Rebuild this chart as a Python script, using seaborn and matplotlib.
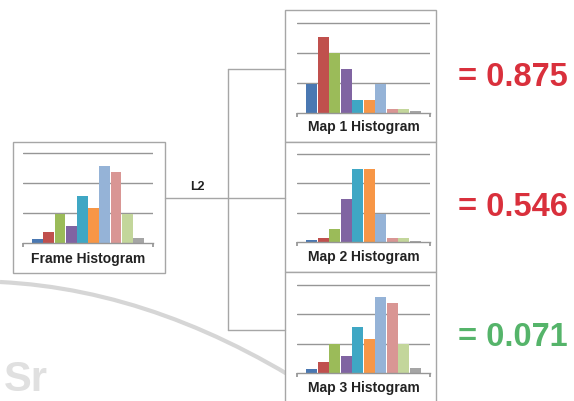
import matplotlib
matplotlib.use("Agg")
import matplotlib.pyplot as plt
import seaborn as sns
from matplotlib.patches import Rectangle, PathPatch
from matplotlib.path import Path

# Histogram bins and values (grid units)
bins = [str(i) for i in range(1, 11)]
frame_hist = [0.15, 0.37, 0.97, 0.56, 1.57, 1.16, 2.58, 2.38, 0.97, 0.17]
map1_hist = [0.98, 2.52, 2.00, 1.47, 0.44, 0.44, 0.98, 0.13, 0.13, 0.06]
map2_hist = [0.06, 0.14, 0.43, 1.47, 2.47, 2.47, 0.95, 0.14, 0.14, 0.04]
map3_hist = [0.15, 0.37, 0.97, 0.56, 1.55, 1.14, 2.58, 2.38, 0.97, 0.17]

titles = ["Frame Histogram", "Map 1 Histogram", "Map 2 Histogram", "Map 3 Histogram"]
scores = ["= 0.875", "= 0.546", "= 0.071"]
score_colors = ["#d9303c", "#d9303c", "#55b46a"]
bar_colors = ["#4a78b2", "#c0504d", "#9bbb59", "#8064a2", "#3fa7c4",
              "#f79646", "#95b3d7", "#d99694", "#c3d69b", "#a5a5a5"]

W, H = 574, 401
sns.set_theme(style="white")
plt.rcParams["font.family"] = ["Liberation Sans", "DejaVu Sans"]

fig = plt.figure(figsize=(W / 100, H / 100), dpi=100)
fig.patch.set_facecolor("white")

# overlay in pixel coordinates for boxes, connectors and labels
over = fig.add_axes([0, 0, 1, 1], zorder=0)
over.set_xlim(0, W)
over.set_ylim(H, 0)
over.axis("off")

# faint watermark arc and letters
verts = [(0, 282), (165, 290), (330, 401)]
arc = PathPatch(Path(verts, [Path.MOVETO, Path.CURVE3, Path.CURVE3]),
                fill=False, edgecolor="#d6d6d6", lw=3, zorder=0)
over.add_patch(arc)
over.text(4, 391, "Sr", fontsize=30, fontweight="bold", color="#e0e0e0",
          va="baseline", ha="left", zorder=0)

box_color = "#a6a6a6"
boxes = [(13, 142, 165, 273), (285, 10, 436, 142),
         (285, 142, 436, 272), (285, 272, 436, 405)]
for x0, y0, x1, y1 in boxes:
    over.add_patch(Rectangle((x0, y0), x1 - x0, y1 - y0, fill=True,
                             facecolor="white", edgecolor=box_color, lw=1, zorder=1))

# connector lines
line_kw = dict(color=box_color, lw=1, zorder=1)
over.plot([165, 285], [198, 198], **line_kw)
over.plot([228, 228], [69, 330], **line_kw)
over.plot([228, 285], [69, 69], **line_kw)
over.plot([228, 285], [330, 330], **line_kw)
over.text(197, 187, "L2", fontsize=9, fontweight="bold", color="#222222",
          ha="center", va="center")

# score texts
for y, s, c in zip([77, 207, 337], scores, score_colors):
    over.text(458, y, s, fontsize=23.5, fontweight="bold", color=c,
              ha="left", va="center")

# histogram panels: (left px, right px, baseline px, unit px, values, label y)
panels = [
    (23, 153, 243, 30.0, frame_hist, 259),
    (297, 430, 113, 30.0, map1_hist, 127),
    (297, 430, 242, 29.5, map2_hist, 257),
    (297, 430, 373, 29.5, map3_hist, 388),
]
ytop = 3.2
for (l, r, base, unit, vals, ly), title in zip(panels, titles):
    top = base - ytop * unit
    ax = fig.add_axes([l / W, 1 - base / H, (r - l) / W, (base - top) / H], zorder=2)
    ax.patch.set_alpha(0)
    for g in [1, 2, 3]:
        ax.axhline(g, color="#969696", lw=1, zorder=0)
    sns.barplot(x=bins, y=vals, hue=bins, palette=bar_colors, legend=False,
                width=0.97, saturation=1, linewidth=0, ax=ax, zorder=2)
    xmin, xmax = -1.3, 10.3
    ax.set_xlim(xmin, xmax)
    ax.set_ylim(0, ytop)
    for side in ["top", "left", "right"]:
        ax.spines[side].set_visible(False)
    ax.spines["bottom"].set_color("#969696")
    ax.spines["bottom"].set_linewidth(1)
    ax.set_xticks([xmin + 0.02, xmax - 0.02])
    ax.set_xticklabels([])
    ax.tick_params(axis="x", bottom=True, length=3, color="#969696", direction="out")
    ax.set_yticks([])
    ax.set_xlabel("")
    ax.set_ylabel("")
    cx = (l + r) / 2
    over.text(cx, ly, title, fontsize=10, fontweight="bold", color="#222222",
              ha="center", va="center", zorder=3)

fig.savefig("out.png", dpi=100, facecolor="white")
